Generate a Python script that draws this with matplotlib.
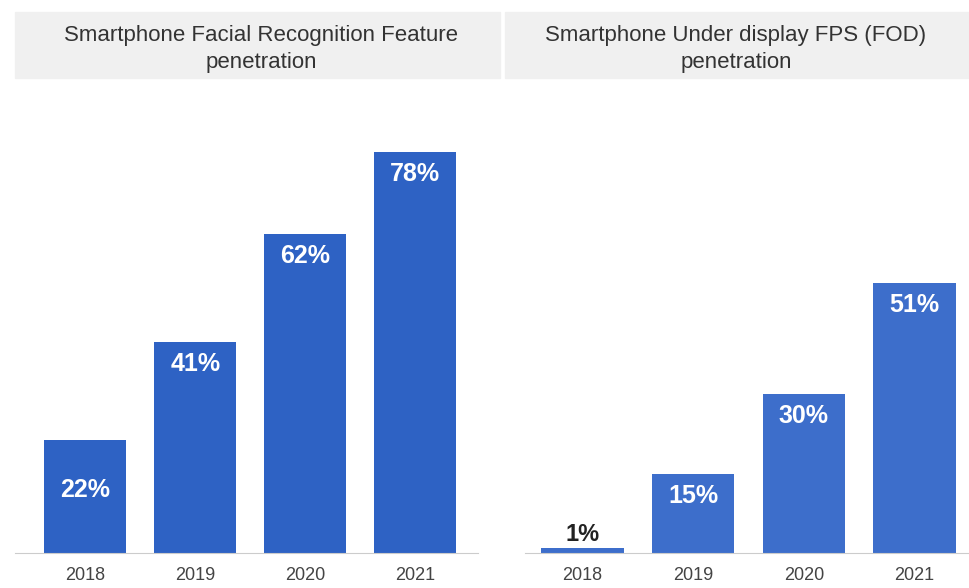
import matplotlib.pyplot as plt
from matplotlib.patches import Rectangle

plt.rcParams["font.family"] = ["Liberation Sans", "DejaVu Sans"]

# Data
years = ["2018", "2019", "2020", "2021"]
face_pct = [22, 41, 62, 78]
fod_pct = [1, 15, 30, 51]
face_title = "Smartphone Facial Recognition Feature\npenetration"
fod_title = "Smartphone Under display FPS (FOD)\npenetration"

fig = plt.figure(figsize=(9.7, 5.88), dpi=100)

def draw_panel(rect, values, color, xlim, ytop, label_off):
  ax = fig.add_axes(rect)
  x = range(len(years))
  ax.bar(x, values, width=0.745, color=color, zorder=2)
  ax.set_xlim(*xlim)
  ax.set_ylim(0, ytop)
  ax.set_xticks(list(x))
  ax.set_xticklabels(years, fontsize=13, color="#444444")
  ax.tick_params(axis="x", length=0, pad=10)
  ax.set_yticks([])
  for s in ["top", "right", "left"]:
    ax.spines[s].set_visible(False)
  ax.spines["bottom"].set_color("#cccccc")
  for i, v in enumerate(values):
    if v < 5:
      # too thin to hold the label: put it above
      ax.annotate("%d%%" % v, (i, v), xytext=(0, 1), textcoords="offset points",
                  ha="center", va="bottom", fontsize=17, fontweight="bold", color="#222222")
    else:
      ax.annotate("%d%%" % v, (i, v), xytext=(0, -label_off[i]), textcoords="offset points",
                  ha="center", va="center", fontsize=18, fontweight="bold", color="white")
  return ax

# Header boxes
fig.patches.append(Rectangle((15 / 970, 1 - 78 / 588), 485 / 970, 66 / 588,
                             transform=fig.transFigure, color="#f0f0f0", zorder=0))
fig.patches.append(Rectangle((505 / 970, 1 - 78 / 588), 465 / 970, 66 / 588,
                             transform=fig.transFigure, color="#f0f0f0", zorder=0))
fig.text(261 / 970, 1 - 49 / 588, face_title, ha="center", va="center",
         fontsize=16, color="#333333", linespacing=1.42)
fig.text(736 / 970, 1 - 49 / 588, fod_title, ha="center", va="center",
         fontsize=16, color="#333333", linespacing=1.42)

draw_panel([15 / 970, 35 / 588, 463 / 970, 453 / 588], face_pct,
           "#2e62c4", (-0.64, 3.57), 88.1, [36, 16, 16, 16])
draw_panel([525 / 970, 35 / 588, 445 / 970, 453 / 588], fod_pct,
           "#3d6ecb", (-0.52, 3.5), 85.5, [16, 16, 16, 16])

fig.savefig("out.png", dpi=100)
